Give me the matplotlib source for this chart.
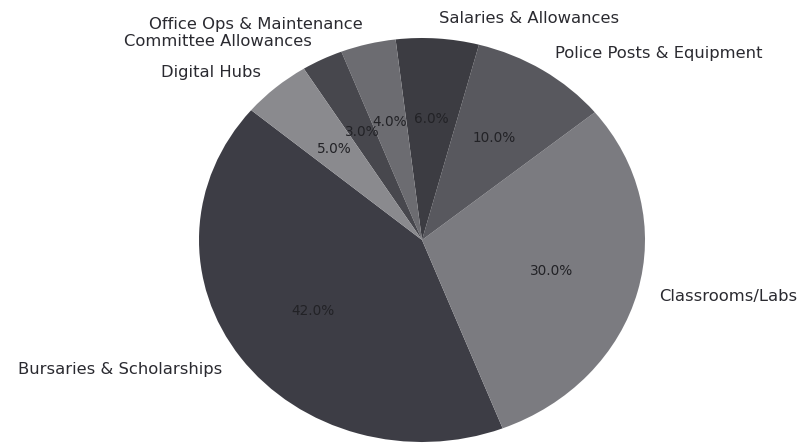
import matplotlib.pyplot as plt

labels = ['Bursaries & Scholarships', 'Classrooms/Labs', 'Police Posts & Equipment',
          'Salaries & Allowances', 'Office Ops & Maintenance', 'Committee Allowances',
          'Digital Hubs']
shares = [42, 30, 10, 6, 4, 3, 5]
colors = ['#3d3d45', '#7b7b80', '#58585e', '#3c3c42', '#6c6c71', '#47474d', '#8a8a8e']

fig = plt.figure(figsize=(8.01, 4.47), dpi=100)
ax = fig.add_axes([0, 0, 1, 1])

wedges, texts, autotexts = ax.pie(shares, labels=labels, colors=colors,
                                  autopct='%1.1f%%', startangle=140,
                                  textprops={'fontsize': 11.8, 'color': '#2a2a30'})
for t in autotexts:
    t.set_fontsize(9.8)
    t.set_color('#222226')

# the photo is squashed a bit vertically, so let the pie stretch
ax.set_aspect('auto')
ax.set_xlim(-422 / 223, (801 - 422) / 223)
ax.set_ylim(-207 / 202, 240 / 202)
ax.axis('off')

fig.savefig('out.png', dpi=100)
